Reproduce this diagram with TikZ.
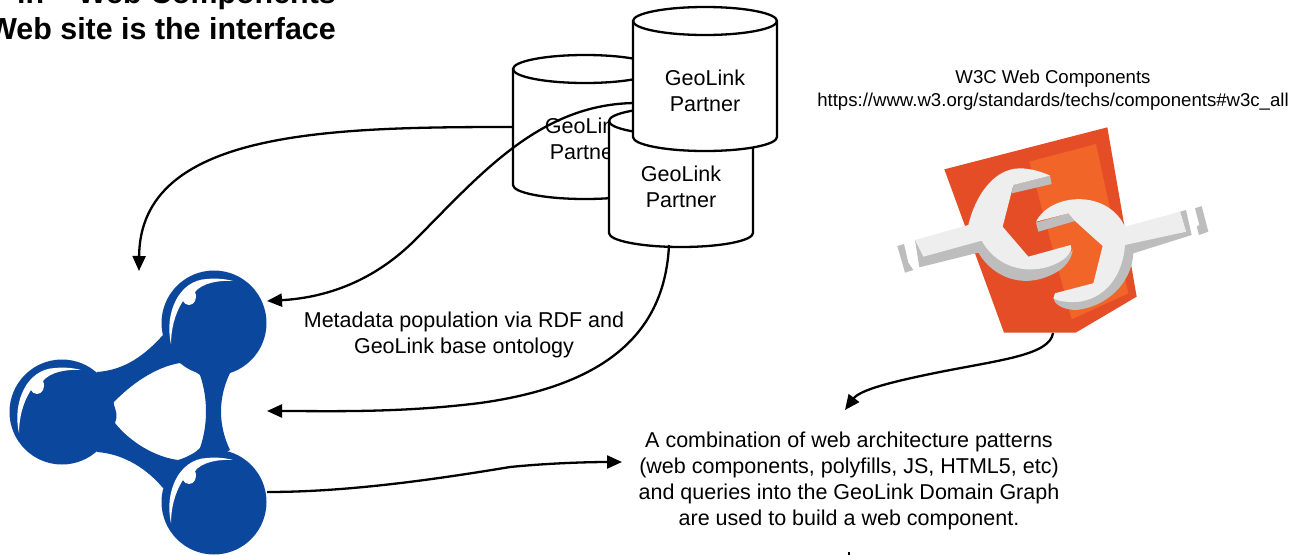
\documentclass[tikz,border=0pt]{standalone}
\usepackage{fontspec}
\setmainfont{Liberation Sans}
\usetikzlibrary{arrows.meta}
\definecolor{logoblue}{HTML}{0B479C}
\definecolor{shieldA}{HTML}{E44D26}
\definecolor{shieldB}{HTML}{F16529}
\definecolor{wrenchL}{HTML}{EEEEEE}
\definecolor{wrenchD}{HTML}{BDBDBD}
\tikzset{
  px/.style={x=1pt,y=-1pt},
  zoomed/.style={x=0.33333pt,y=-0.33333pt},
  label/.style={font=\fontsize{21.5}{26}\selectfont,align=center,inner sep=0pt,text=black},
  smalllabel/.style={font=\fontsize{18.6}{23}\selectfont,align=center,inner sep=0pt,text=black},
  titletext/.style={font=\bfseries\fontsize{30.4}{36}\selectfont,align=right,inner sep=0pt,anchor=north east,text=black},
  link/.style={line width=2.3pt,draw=black,-{Triangle[length=15pt,width=13pt]}},
  cyl/.style={line width=2.3pt,draw=black,fill=white}
}
\newcommand{\cylinder}[3]{% left x, top-centre y, bottom-side y
  \path[cyl] (#1,#2) -- (#1,#3) .. controls (#1,#3+7.7) and (#1+32,#3+14) .. (#1+72,#3+14)
     .. controls (#1+112,#3+14) and (#1+144,#3+7.7) .. (#1+144,#3) -- (#1+144,#2)
     .. controls (#1+144,#2-7.7) and (#1+112,#2-14) .. (#1+72,#2-14)
     .. controls (#1+32,#2-14) and (#1,#2-7.7) .. (#1,#2) -- cycle;
  \draw[line width=2.3pt] (#1,#2) .. controls (#1,#2+7.7) and (#1+32,#2+14) .. (#1+72,#2+14)
     .. controls (#1+112,#2+14) and (#1+144,#2+7.7) .. (#1+144,#2);
}
\newcommand{\crescent}[2]{%
  \fill[white,shift={(#1,#2)}] (-43,21) .. controls (-50,-10) and (-35,-43) .. (-7,-44)
    .. controls (2,-45) and (12,-44) .. (19,-42)
    .. controls (5,-43) and (-12,-40) .. (-19,-31)
    .. controls (-16,-24) and (-20,-18) .. (-25,-18)
    .. controls (-28,-18) and (-30,-20) .. (-31,-22)
    .. controls (-40,-8) and (-43,8) .. (-43,21) -- cycle;
}
\begin{document}
\begin{tikzpicture}[px]
\useasboundingbox (0,0) rectangle (1303,554);
\clip (0,0) rectangle (1303,554);

\node[titletext] (title) at (336,-18.5) {in -- Web Components\\Web site is the interface};

% back cylinder
\cylinder{513}{69}{185}
\node[label] (cylA) at (585,139) {GeoLink\\Partner};
\coordinate (cylAw) at (513,127);

% logo
\coordinate (topball) at (214,323);
\coordinate (leftball) at (62,412);
\coordinate (botball) at (214,502);
\fill[logoblue] (214,323) circle (52.5);
\fill[logoblue] (62,412) circle (52.5);
\fill[logoblue] (214,502) circle (52.5);
\fill[logoblue,even odd rule] (163,335) .. controls (145,355) and (125,370) .. (97,372)
   -- (97,452) .. controls (125,454) and (148,470) .. (163,488)
   -- (230,450) .. controls (218,425) and (218,398) .. (230,373) -- cycle
   (180,363) .. controls (190,366) and (195,372) .. (200,375)
   .. controls (208,398) and (208,425) .. (200,448)
   .. controls (195,453) and (188,457) .. (178,460)
   .. controls (155,457) and (130,442) .. (115,423)
   .. controls (118,417) and (116,409) .. (113,403)
   .. controls (130,385) and (155,367) .. (180,363) -- cycle;
\crescent{214}{323}
\crescent{62}{412}
\crescent{214}{502}

% connectors under the front cylinders
\coordinate (cylCw) at (637,103);
\coordinate (logoTop) at (267,301);
\coordinate (logoUp) at (139,271);
\coordinate (logoMid) at (267,411);
\coordinate (logoBot) at (267,492);
\draw[link] (cylAw) .. controls (330,127) and (140,130) .. (logoUp);
\draw[link] (cylCw) .. controls (540,103) and (480,175) .. (415,240) .. controls (370,285) and (320,298) .. (logoTop);

% other cylinders
\cylinder{609}{121}{233}
\node[label] (cylB) at (681,187) {GeoLink\\Partner};
\cylinder{633}{21}{137}
\node[label] (cylC) at (705,91) {GeoLink\\Partner};
\coordinate (cylBs) at (669,245);
\draw[link] (cylBs) .. controls (665,330) and (610,385) .. (480,403) .. controls (400,413) and (330,411) .. (logoMid);

% labels
\node[label] (meta) at (464,334.5) {Metadata population via RDF and\\GeoLink base ontology};
\node[smalllabel] (w3c) at (1053,90) {W3C Web Components\\https://www.w3.org/standards/techs/components\#w3c\_all};
\node[label] (combo) at (849,480.5) {A combination of web architecture patterns\\(web components, polyfills, JS, HTML5, etc)\\and queries into the GeoLink Domain Graph\\are used to build a web component.};

% web components logo
\begin{scope}[shift={(880,110)},zoomed]
  \fill[shieldA] (193,178) -- (682,52) -- (770,560) -- (587,668) -- (372,668) -- cycle;
  \fill[shieldB] (448,155) -- (648,102) -- (745,550) -- (575,628) -- cycle;
  % left wrench
  \fill[wrenchD] (52,408) -- (72,402) -- (85,458) -- (100,480) -- (75,488) -- cycle;
  \fill[wrenchD] (105,390) -- (118,472) -- (295,428) .. controls (340,505) and (440,545) .. (540,480)
     .. controls (560,465) and (575,445) .. (578,420) -- (555,445) -- (450,470) -- (305,392) -- cycle;
  \fill[wrenchD] (400,225) -- (510,197) -- (515,222) -- (395,250) -- cycle;
  \fill[wrenchL] (105,390) -- (265,345) .. controls (285,260) and (340,175) .. (420,175)
     .. controls (450,175) and (485,185) .. (510,197)
     -- (400,225) -- (368,350) -- (445,440) -- (572,405) .. controls (578,420) and (570,430) .. (555,445)
     .. controls (480,500) and (360,490) .. (305,392) -- (130,440) -- cycle;
  % right wrench
  \fill[wrenchD] (945,295) -- (965,288) -- (985,365) -- (957,375) -- (950,350) -- (958,345) -- cycle;
  \fill[wrenchD] (900,305) -- (918,300) -- (935,375) -- (760,430) .. controls (755,520) and (680,590) .. (590,600)
     .. controls (560,600) and (530,590) .. (522,570) -- (525,550) -- (640,520) -- (720,400) -- (918,365) -- cycle;
  \fill[wrenchD] (468,338) -- (565,310) -- (585,333) -- (475,365) -- cycle;
  \fill[wrenchL] (735,350) -- (900,305) -- (918,365) -- (735,405)
     .. controls (730,480) and (690,560) .. (600,575) .. controls (570,578) and (535,575) .. (520,565)
     -- (525,550) -- (640,520) -- (668,408) -- (585,333) -- (565,310) -- (468,335)
     .. controls (510,250) and (680,235) .. (735,350) -- cycle;
\end{scope}

\coordinate (wcS) at (1053,333);
\coordinate (comboN) at (845,410);
\draw[link] (wcS) .. controls (1050,355) and (1000,360) .. (940,372) .. controls (890,382) and (860,390) .. (comboN);
\coordinate (comboE) at (622,462);
\draw[link] (logoBot) .. controls (340,492) and (420,482) .. (510,467) .. controls (550,463) and (590,462) .. (comboE);

% sliver of a cut-off connector at the bottom edge
\coordinate (tickA) at (849,552);
\coordinate (tickB) at (849,556);
\draw[line width=2.3pt] (tickA) -- (tickB);
\end{tikzpicture}
\end{document}
